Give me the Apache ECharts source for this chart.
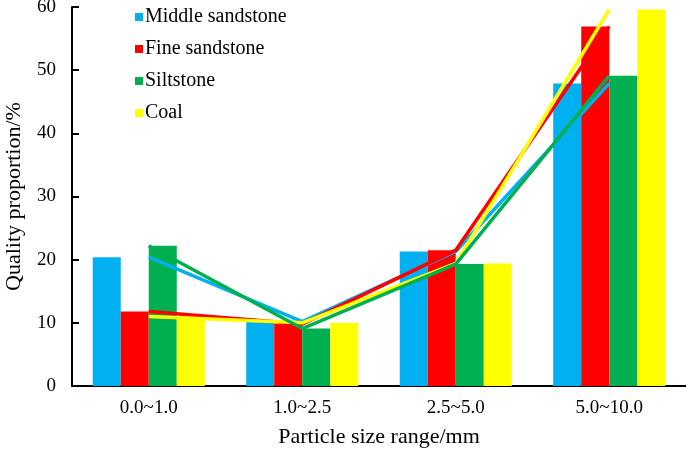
<!DOCTYPE html>
<html>
<head>
<meta charset="utf-8">
<script src="https://cdn.jsdelivr.net/npm/echarts@6/dist/echarts.min.js"></script>
<style>
  html, body { margin: 0; padding: 0; background: #fff; }
  #chart { width: 686px; height: 452px; }
</style>
</head>
<body>
<div id="chart"></div>
<script>
const categories = ["0.0~1.0", "1.0~2.5", "2.5~5.0", "5.0~10.0"];
const seriesNames = ["Middle sandstone", "Fine sandstone", "Siltstone", "Coal"];
const middleSandstone = [20.4, 10.2, 21.3, 47.9];
const fineSandstone = [11.8, 9.8, 21.5, 56.9];
const siltstone = [22.2, 9.1, 19.3, 49.1];
const coal = [11.0, 10.0, 19.4, 59.6];
const colors = ["#00B0F0", "#FF0000", "#00B050", "#FFFF00"];

const values = [middleSandstone, fineSandstone, siltstone, coal];
const font = "Liberation Serif";

let myChart = echarts.init(document.getElementById("chart"), null, { renderer: "canvas" });

let barSeries = values.map((data, i) => {
  return {
    name: seriesNames[i],
    type: "bar",
    data: data,
    barGap: "0%",
    barCategoryGap: "27%",
    itemStyle: { color: colors[i] },
    z: 2,
  };
});

// lines drawn over the bars, same values, at category centers
let lineOrder = [0, 1, 3, 2];
let lineSeries = lineOrder.map((i) => {
  return {
    name: seriesNames[i] + " line",
    type: "line",
    data: values[i],
    symbol: "none",
    lineStyle: { color: colors[i], width: 3.5 },
    itemStyle: { color: colors[i] },
    z: 3,
  };
});

let option = {
  animation: false,
  textStyle: { fontFamily: font },
  grid: { left: 72, right: 0, top: 7, bottom: 66, containLabel: false, outerBoundsMode: "none" },
  legend: {
    data: seriesNames,
    orient: "vertical",
    left: 130,
    top: 2,
    itemWidth: 8,
    itemHeight: 8,
    itemGap: 12,
    icon: "rect",
    textStyle: { fontFamily: font, fontSize: 20, lineHeight: 20, color: "#000", padding: [0, 0, 0, -3] },
  },
  xAxis: {
    type: "category",
    data: categories,
    name: "Particle size range/mm",
    nameLocation: "middle",
    nameGap: 40,
    nameTextStyle: { fontFamily: font, fontSize: 22, color: "#000" },
    axisLine: { lineStyle: { color: "#000", width: 2 } },
    axisTick: { show: false },
    axisLabel: { fontFamily: font, fontSize: 19, color: "#000", margin: 13 },
  },
  yAxis: {
    type: "value",
    min: 0,
    max: 60,
    interval: 10,
    name: "Quality proportion/%",
    nameLocation: "middle",
    nameGap: 47,
    nameTextStyle: { fontFamily: font, fontSize: 22, color: "#000" },
    axisLine: { show: true, lineStyle: { color: "#000", width: 2 } },
    axisTick: { show: true, inside: true, length: 7, lineStyle: { color: "#000", width: 2 } },
    splitLine: { show: false },
    axisLabel: { fontFamily: font, fontSize: 19, color: "#000", margin: 16 },
  },
  series: barSeries.concat(lineSeries),
};

myChart.setOption(option);
</script>
</body>
</html>
